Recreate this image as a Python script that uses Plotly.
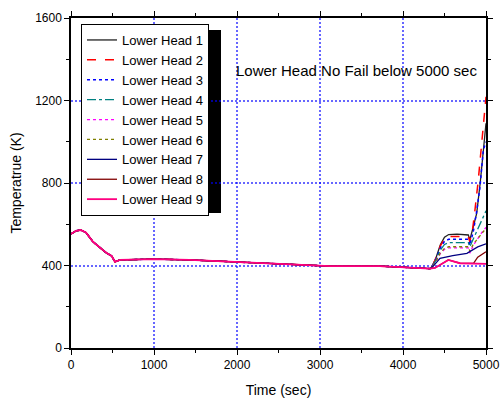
import plotly.graph_objects as go

# Shared history (all nine lower-head nodes identical before ~4325 s)
base_time = [0, 60, 117, 180, 265, 350, 430, 490, 530, 590, 700, 1000, 1430, 1976, 2460, 2760, 3120, 3720, 4085, 4325]
base_temp = [553, 568, 572, 560, 515, 485, 460, 446, 418, 427, 428, 431, 427, 418, 407, 402, 397, 397, 388, 385]

series_names = ["Lower Head 1", "Lower Head 2", "Lower Head 3", "Lower Head 4", "Lower Head 5",
                "Lower Head 6", "Lower Head 7", "Lower Head 8", "Lower Head 9"]

tail1_time = [4350, 4400, 4450, 4500, 4550, 4650, 4787, 4805, 4847, 4888, 4930, 4970, 5000]
tail1_temp = [395, 440, 500, 537, 550, 552, 548, 524, 588, 653, 800, 960, 1090]
tail2_time = [4350, 4400, 4450, 4500, 4550, 4650, 4787, 4805, 4840, 4867, 4907, 4963, 5000]
tail2_temp = [394, 438, 495, 530, 541, 542, 540, 515, 580, 669, 814, 1057, 1218]
tail3_time = [4350, 4400, 4450, 4500, 4550, 4650, 4787, 4805, 4850, 4890, 4928, 4968, 5000]
tail3_temp = [394, 432, 485, 517, 527, 528, 527, 497, 570, 669, 782, 960, 1000]
tail4_time = [4350, 4400, 4450, 4500, 4550, 4650, 4787, 4805, 4900, 5000]
tail4_temp = [393, 428, 475, 502, 511, 512, 511, 491, 580, 665]
tail5_time = [4350, 4400, 4450, 4500, 4550, 4650, 4787, 4805, 4850, 4950, 5000]
tail5_temp = [392, 420, 458, 478, 485, 486, 485, 460, 500, 560, 585]
tail6_time = [4350, 4400, 4450, 4500, 4550, 4650, 4787, 4805, 4850, 5000]
tail6_temp = [392, 422, 462, 483, 491, 492, 491, 470, 505, 580]
tail7_time = [4350, 4400, 4446, 4600, 4770, 4900, 5000]
tail7_temp = [390, 415, 435, 448, 459, 490, 505]
tail8_time = [4385, 4450, 4546, 4687, 4850, 4900, 4960, 5000]
tail8_temp = [388, 405, 427, 411, 410, 440, 455, 467]
tail9_time = [4385, 4450, 4546, 4687, 4850, 5000]
tail9_temp = [388, 405, 427, 411, 409, 408]

tails_time = [tail1_time, tail2_time, tail3_time, tail4_time, tail5_time,
              tail6_time, tail7_time, tail8_time, tail9_time]
tails_temp = [tail1_temp, tail2_temp, tail3_temp, tail4_temp, tail5_temp,
              tail6_temp, tail7_temp, tail8_temp, tail9_temp]

colors = ["#222222", "red", "blue", "#008080", "magenta", "#808000", "#000080", "#800000", "#FF0080"]
dashes = ["solid", "dash", "dot", "dashdot", "dot", "dot", "solid", "solid", "solid"]
widths = [1.3, 1.5, 1.5, 1.3, 1.3, 1.3, 1.3, 1.3, 1.8]

x_ticks = [0, 1000, 2000, 3000, 4000, 5000]
y_ticks = [0, 400, 800, 1200, 1600]

fig = go.Figure()
for name, tt, tv, c, d, w in zip(series_names, tails_time, tails_temp, colors, dashes, widths):
    fig.add_trace(go.Scatter(x=base_time + tt, y=base_temp + tv, mode="lines", name=name,
                             line=dict(color=c, dash=d, width=w)))

font = "Arial, Liberation Sans, sans-serif"
axis_common = dict(showline=True, linecolor="black", linewidth=1.5, mirror="ticks",
                   ticks="outside", ticklen=5, tickwidth=1.2, tickcolor="black",
                   showgrid=True, gridcolor="rgba(0,0,255,0.6)", griddash="2px,2px", gridwidth=2,
                   zeroline=False, automargin=False,
                   tickfont=dict(family=font, size=12, color="black"))

fig.update_xaxes(range=[0, 5000], tickvals=x_ticks, **axis_common,
                 minor=dict(ticks="outside", dtick=500, ticklen=3, tickcolor="black", showgrid=False),
                 title=dict(text="Time (sec)", font=dict(family=font, size=14, color="black"), standoff=14))
fig.update_yaxes(range=[0, 1600], tickvals=y_ticks, **axis_common,
                 minor=dict(ticks="outside", dtick=200, ticklen=3, tickcolor="black", showgrid=False),
                 title=dict(text="Temperatrue (K)", font=dict(family=font, size=14, color="black"), standoff=10))

# legend shadow
fig.add_shape(type="rect", xref="paper", yref="paper", layer="below",
              x0=(89 - 71) / 415, x1=(221 - 71) / 415, y0=(348 - 213) / 330, y1=(348 - 30) / 330,
              fillcolor="black", line=dict(width=0))

fig.add_annotation(text="Lower Head No Fail below 5000 sec", xref="paper", yref="paper",
                   x=(356 - 71) / 415, y=(348 - 70) / 330, xanchor="center", yanchor="middle",
                   showarrow=False, font=dict(family=font, size=15, color="black"))

fig.update_layout(
    width=500, height=398,
    margin=dict(l=71, r=14, t=18, b=50),
    plot_bgcolor="white", paper_bgcolor="white",
    legend=dict(x=(81 - 71) / 415, y=(348 - 24) / 330, xanchor="left", yanchor="top",
                bgcolor="white", bordercolor="black", borderwidth=1,
                font=dict(family=font, size=13, color="black"), tracegroupgap=0),
)

fig.write_html("out.html", config={"displayModeBar": False},
               post_script="document.body.style.margin='0px';")
